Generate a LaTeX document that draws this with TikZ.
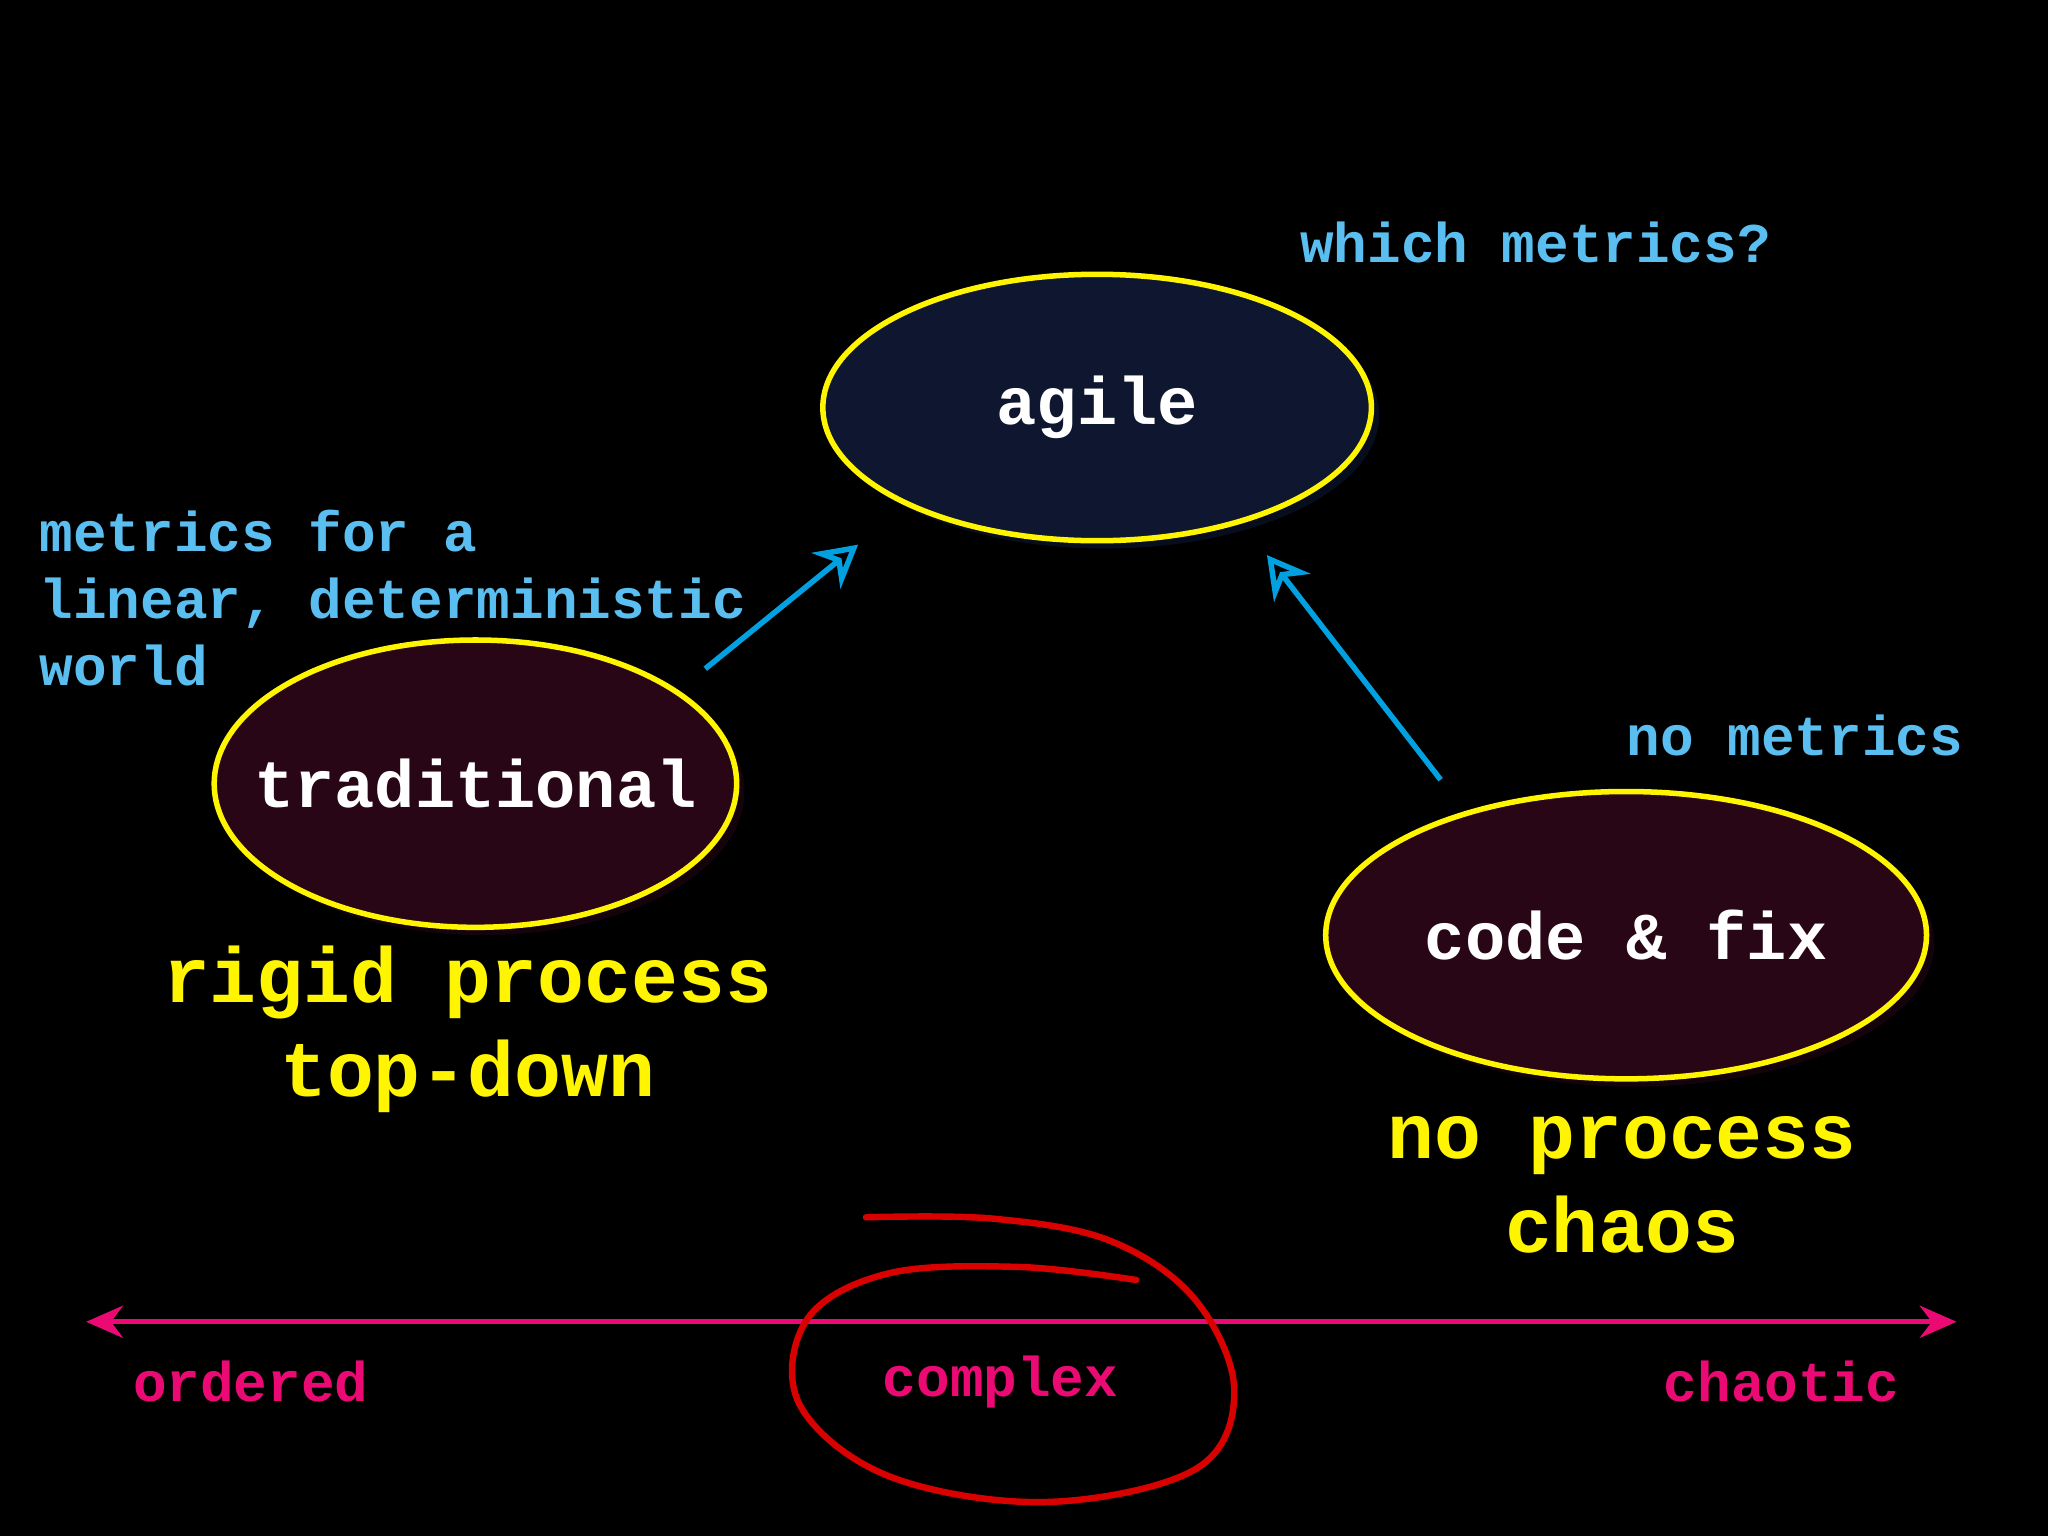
\documentclass[tikz,border=0pt]{standalone}
\usepackage{fontspec}
\setmonofont{Liberation Mono}
\usetikzlibrary{arrows.meta}
\definecolor{yel}{RGB}{255,245,0}
\definecolor{sky}{RGB}{90,190,240}
\definecolor{arr}{RGB}{0,160,225}
\definecolor{mag}{RGB}{235,10,115}
\definecolor{navy}{RGB}{14,22,48}
\definecolor{maroon}{RGB}{40,6,22}
\tikzset{
 oval/.style={draw=yel,line width=1.2pt},
 wlab/.style={text=white,font=\ttfamily\bfseries\fontsize{14.6}{16}\selectfont},
 blab/.style={text=sky,font=\ttfamily\bfseries\fontsize{12.2}{14.6}\selectfont,align=left},
 ylab/.style={text=yel,font=\ttfamily\bfseries\fontsize{17}{20.5}\selectfont,align=center},
 mlab/.style={text=mag,font=\ttfamily\bfseries\fontsize{12.2}{14}\selectfont},
 barr/.style={draw=arr,line width=1.2pt,-{Stealth[open,length=9pt,width=10pt,line width=1.2pt]}},
}
\begin{document}
\begin{tikzpicture}[x=0.01cm,y=-0.01cm]
\fill[black] (0,0) rectangle (1568,1176);
\useasboundingbox (0,0) rectangle (1568,1176);
\fill[navy!60!black] (846,318) ellipse [x radius=210,y radius=102];
\draw[oval,fill=navy] (840,312) ellipse [x radius=210,y radius=102];
\node[wlab] (ag) at (840,312) {agile};
\fill[maroon!50!black] (370,606) ellipse [x radius=200,y radius=110];
\draw[oval,fill=maroon] (364,600) ellipse [x radius=200,y radius=110];
\node[wlab] (tr) at (364,600) {traditional};
\fill[maroon!50!black] (1251,722) ellipse [x radius=230,y radius=110];
\draw[oval,fill=maroon] (1245,716) ellipse [x radius=230,y radius=110];
\node[wlab] (cf) at (1245,716) {code \& fix};
\coordinate (a1) at (540,512); \coordinate (a1e) at (657,417);
\coordinate (a2) at (1103,597); \coordinate (a2e) at (970,425);
\draw[barr] (a1) -- (a1e);
\draw[barr] (a2) -- (a2e);
\node[blab,anchor=west] (wm) at (983,186) {which metrics?};
\node[blab,anchor=north west] (mf) at (18,378) {metrics for a\\linear, deterministic\\world};
\node[blab,anchor=west] (nm) at (1233,563) {no metrics};
\node[ylab] (rp) at (358,788) {rigid process\\top-down};
\node[ylab] (np) at (1242,907) {no process\\chaos};
\coordinate (L) at (66,1012); \coordinate (R) at (1498,1012);
\draw[mag,line width=1.1pt,{Stealth[length=8pt,width=7pt]}-{Stealth[length=8pt,width=7pt]}] (L) -- (R);
\node[mlab] (or) at (192,1058) {ordered};
\node[mlab] (co) at (766,1058) {complex};
\node[mlab] (ch) at (1364,1058) {chaotic};
\draw[red!85!black,line width=1.4pt,line cap=round] plot[smooth,tension=0.6] coordinates {(663,932) (760,933) (850,950) (915,995) (945,1065) (915,1125) (800,1150) (680,1130) (612,1075) (618,1010) (680,975) (780,970) (870,980)};
\end{tikzpicture}
\end{document}
